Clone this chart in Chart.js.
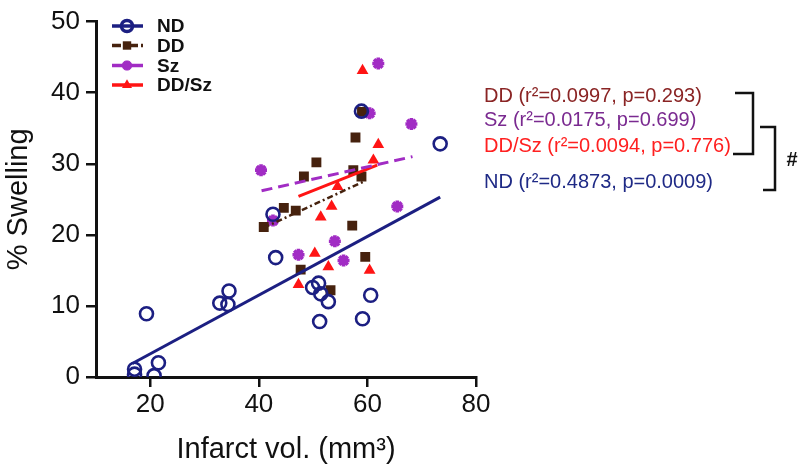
<!DOCTYPE html>
<html>
<head>
<meta charset="utf-8">
<script src="https://cdn.jsdelivr.net/npm/chart.js@4.4.1/dist/chart.umd.min.js"></script>
<style>
  html, body { margin: 0; padding: 0; background: #fff; }
  #wrap { width: 800px; height: 469px; }
</style>
</head>
<body>
<div id="wrap"><canvas id="chart-area"></canvas></div>
<script>
(function () {
  'use strict';

  // scatter values
  var ndX = [17.1, 17.1, 20.7, 21.5, 19.3, 32.8, 34.3, 34.5, 42.6, 43.1, 49.9, 51.0, 51.4, 52.8, 51.2, 59.1, 60.6, 58.9, 73.4];
  var ndY = [1.1, 0.4, 0.2, 2.0, 8.9, 10.4, 10.2, 12.1, 22.9, 16.8, 12.6, 13.2, 11.7, 10.6, 7.8, 8.2, 11.5, 37.4, 32.8];

  var ddX = [40.9, 44.6, 46.8, 48.3, 50.6, 57.4, 58.9, 57.8, 59.0, 57.2, 59.6, 47.7, 53.2];
  var ddY = [21.1, 23.8, 23.4, 28.2, 30.2, 29.1, 28.2, 33.7, 37.3, 21.3, 16.9, 15.1, 12.2];

  var szX = [40.4, 42.6, 47.3, 54.0, 55.6, 60.4, 62.0, 68.1, 65.5];
  var szY = [29.1, 22.0, 17.2, 19.1, 16.4, 37.1, 44.1, 35.6, 24.0];

  var ddszX = [47.3, 50.3, 51.4, 52.8, 53.4, 54.5, 59.1, 61.1, 62.0, 60.4];
  var ddszY = [13.0, 17.4, 22.5, 15.5, 24.0, 26.8, 43.1, 30.5, 32.7, 15.0];

  // regression line end points (x0, y0, x1, y1)
  var ndFit = [16.7, 1.9, 73.4, 25.3];
  var ddFit = [40.9, 21.0, 59.6, 27.6];
  var szFit = [40.5, 26.2, 68.3, 31.0];
  var ddszFit = [47.3, 25.4, 61.8, 29.8];

  var xTicks = [20, 40, 60, 80];
  var yTicks = [0, 10, 20, 30, 40, 50];

  var groupNames = ['ND', 'DD', 'Sz', 'DD/Sz'];
  var statLabels = [
    'DD (r\u00B2=0.0997, p=0.293)',
    'Sz (r\u00B2=0.0175, p=0.699)',
    'DD/Sz (r\u00B2=0.0094, p=0.776)',
    'ND (r\u00B2=0.4873, p=0.0009)'
  ];

  var NAVY = '#1c1f82';
  var BROWN = '#46220e';
  var PURPLE = '#a12cc4';
  var RED = '#ff1414';
  var FONT = "'Liberation Sans', Arial, sans-serif";

  var pts = function (xs, ys) {
    return xs.map(function (x, i) { return { x: x, y: ys[i] }; });
  };
  var fit = function (f) {
    return [{ x: f[0], y: f[1] }, { x: f[2], y: f[3] }];
  };

  var markers = [
    { style: 'circle', radius: 6.5, border: 2.6, stroke: NAVY, fill: 'rgba(0,0,0,0)' },
    { style: 'rect', radius: 7, border: 0, stroke: BROWN, fill: BROWN },
    { style: 'star', radius: 6, border: 3.6, stroke: PURPLE, fill: PURPLE },
    { style: 'triangle', radius: 6.8, border: 0, stroke: RED, fill: RED }
  ];
  var lineStyles = [
    { color: NAVY, width: 3, dash: [] },
    { color: BROWN, width: 2.5, dash: [6, 3, 2, 3] },
    { color: PURPLE, width: 3, dash: [11, 6] },
    { color: RED, width: 3, dash: [] }
  ];

  var scatterSet = function (i, data, order) {
    var m = markers[i];
    return {
      label: groupNames[i],
      data: data,
      showLine: false,
      pointStyle: m.style,
      pointRadius: m.radius,
      pointBorderWidth: m.border,
      pointBorderColor: m.stroke,
      pointBackgroundColor: m.fill,
      order: order
    };
  };
  var lineSet = function (i, data, order) {
    var l = lineStyles[i];
    return {
      label: groupNames[i] + ' fit',
      data: data,
      showLine: true,
      pointRadius: 0,
      borderColor: l.color,
      borderWidth: l.width,
      borderDash: l.dash,
      fill: false,
      order: order
    };
  };

  // legend + stats text + brackets
  var annotations = {
    id: 'annotations',
    afterDraw: function (chart) {
      var ctx = chart.ctx;
      ctx.save();

      var legendY = [26, 45.5, 65.5, 85];
      for (var i = 0; i < 4; i++) {
        var y = legendY[i];
        var l = lineStyles[i];
        ctx.strokeStyle = l.color;
        ctx.lineWidth = 3.5;
        ctx.setLineDash(i === 1 ? [9, 3, 2, 3] : []);
        ctx.beginPath();
        ctx.moveTo(112, y);
        ctx.lineTo(143, y);
        ctx.stroke();
        ctx.setLineDash([]);
        var m = markers[i];
        ctx.strokeStyle = m.stroke;
        ctx.fillStyle = m.fill;
        Chart.helpers.drawPoint(ctx, {
          pointStyle: m.style,
          radius: m.radius * 0.85,
          borderWidth: m.border
        }, 127, y);
        ctx.fillStyle = '#111';
        ctx.font = 'bold 19px ' + FONT;
        ctx.textBaseline = 'middle';
        ctx.textAlign = 'left';
        ctx.fillText(groupNames[i], 157, y + 1);
      }

      var statColors = ['#8a2424', '#7a2a90', '#ff2020', '#1f2a86'];
      var statY = [102, 126, 152, 188];
      ctx.font = '20px ' + FONT;
      ctx.textBaseline = 'alphabetic';
      for (var k = 0; k < statLabels.length; k++) {
        ctx.fillStyle = statColors[k];
        ctx.fillText(statLabels[k], 484, statY[k]);
      }

      ctx.strokeStyle = '#111';
      ctx.lineWidth = 2.5;
      ctx.beginPath();
      ctx.moveTo(735, 93);
      ctx.lineTo(753, 93);
      ctx.lineTo(753, 154);
      ctx.lineTo(733, 154);
      ctx.moveTo(760, 127);
      ctx.lineTo(775, 127);
      ctx.lineTo(775, 190);
      ctx.lineTo(763, 190);
      ctx.stroke();

      ctx.fillStyle = '#111';
      ctx.font = 'bold 20px ' + FONT;
      ctx.textAlign = 'center';
      ctx.textBaseline = 'middle';
      ctx.fillText('#', 792, 160);
      ctx.restore();
    }
  };

  var config = {
    type: 'scatter',
    data: {
      datasets: [
        scatterSet(0, pts(ndX, ndY), 1),
        scatterSet(1, pts(ddX, ddY), 3),
        scatterSet(2, pts(szX, szY), 4),
        scatterSet(3, pts(ddszX, ddszY), 2),
        lineSet(0, fit(ndFit), 0),
        lineSet(1, fit(ddFit), 0),
        lineSet(2, fit(szFit), 0),
        lineSet(3, fit(ddszFit), 0)
      ]
    },
    options: {
      responsive: false,
      animation: false,
      layout: { padding: { top: 13, right: 324, bottom: 0, left: 0 } },
      plugins: {
        legend: { display: false },
        tooltip: { enabled: false }
      },
      scales: {
        x: {
          type: 'linear',
          min: 10,
          max: 80,
          afterBuildTicks: function (scale) {
            scale.ticks = xTicks.map(function (v) { return { value: v }; });
          },
          afterFit: function (scale) { scale.height = 92; },
          border: { display: true, color: '#111', width: 3 },
          grid: { drawOnChartArea: false, drawTicks: true, tickLength: 10, color: '#111', lineWidth: 2.5 },
          ticks: { color: '#111', font: { family: FONT, size: 26 }, padding: 2, maxRotation: 0 },
          title: {
            display: true,
            text: 'Infarct vol. (mm\u00B3)',
            color: '#111',
            font: { family: FONT, size: 29 },
            padding: { top: 0, bottom: 2 }
          }
        },
        y: {
          type: 'linear',
          min: 0,
          max: 50,
          afterBuildTicks: function (scale) {
            scale.ticks = yTicks.map(function (v) { return { value: v }; });
          },
          afterFit: function (scale) { scale.width = 96; },
          border: { display: true, color: '#111', width: 3 },
          grid: { drawOnChartArea: false, drawTicks: true, tickLength: 10, color: '#111', lineWidth: 2.5 },
          ticks: { color: '#111', font: { family: FONT, size: 26 }, padding: 6 },
          title: {
            display: true,
            text: '% Swelling',
            color: '#111',
            font: { family: FONT, size: 29 },
            padding: { top: 2, bottom: 0 }
          }
        }
      }
    },
    plugins: [annotations]
  };

  var canvas = document.getElementById('chart-area');
  canvas.width = 800;
  canvas.height = 469;
  window.swellingChart = new Chart(canvas.getContext('2d'), config);
})();
</script>
</body>
</html>
